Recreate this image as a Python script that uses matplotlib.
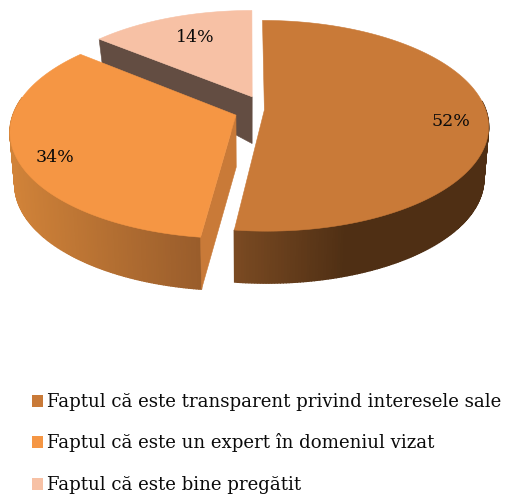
import numpy as np
from matplotlib import pyplot as plt
from matplotlib.colors import to_rgb
from matplotlib.patches import Polygon, Rectangle

labels = ["Faptul că este transparent privind interesele sale",
          "Faptul că este un expert în domeniul vizat",
          "Faptul că este bine pregătit"]
values = [52, 34, 14]
top_colors = ["#c97a38", "#f59644", "#f7c1a5"]

# 3d look of the pie, all in pixels of the picture
CX, CY = 250, 112
A, B, K = 222, 103.6, 0.151
DEPTH, SHRINK = 52, 0.02
offsets = [(0.065, 0.02), (-0.063, -0.03), (0.01, 0.15)]


## circle coordinates -> picture pixels, z=0 is the top of the pie and z=1 the bottom
def project(u, v, z=0.0):
    w = 1 + K * v
    depth = DEPTH - 35 * max(v, 0)
    return CX + A * u / w * (1 - SHRINK * z), CY - B * v / w + depth * z


def rim(theta, off):
    return np.sin(theta) + off[0], np.cos(theta) + off[1]


def mix(c1, c2, t):
    return tuple((1 - t) * np.array(to_rgb(c1)) + t * np.array(to_rgb(c2)))


def draw_wall(ax, t0, t1, off, c1, c2, x1, x2, zorder):
    thetas = np.linspace(t0, t1, 160)
    for a, b in zip(thetas[:-1], thetas[1:]):
        ua, va = rim(a, off)
        ub, vb = rim(b, off)
        pts = [project(ua, va), project(ub, vb), project(ub, vb, 1), project(ua, va, 1)]
        t = np.clip((project(ua, va, 1)[0] - x1) / (x2 - x1), 0, 1)
        col = mix(c1, c2, t)
        ax.add_patch(Polygon(pts, fc=col, ec=col, lw=1.0, zorder=zorder))


def draw_face(ax, t, off, col, zorder):
    u, v = rim(t, off)
    pts = [project(*off), project(u, v), project(u, v, 1), project(off[0], off[1], 1)]
    ax.add_patch(Polygon(pts, fc=col, ec=col, lw=0.4, zorder=zorder))


def draw_top(ax, t0, t1, off, col, zorder):
    thetas = np.linspace(t0, t1, 200)
    u, v = rim(thetas, off)
    pts = [project(*off)] + [project(a, b) for a, b in zip(u, v)]
    ax.add_patch(Polygon(pts, fc=col, ec=col, lw=0.4, zorder=zorder))


fig = plt.figure(figsize=(5.06, 4.96), dpi=100)
ax = fig.add_axes([0, 0, 1, 1])
ax.set_xlim(0, 506)
ax.set_ylim(496, 0)
ax.axis("off")

edges = np.cumsum([0] + values) / sum(values) * 2 * np.pi

# pale slice is at the back, then the orange one, then the big one
draw_face(ax, edges[2], offsets[2], "#634d42", 1)
draw_top(ax, edges[2], edges[3], offsets[2], top_colors[2], 2)

# only the front part of each outer wall can be seen
draw_wall(ax, edges[1], np.radians(280), offsets[1], "#985c2b", "#d18339", 205, 15, 3)
draw_face(ax, edges[1], offsets[1], "#c97a38", 4)
draw_top(ax, edges[1], edges[2], offsets[1], top_colors[1], 5)

draw_wall(ax, np.radians(85), edges[1], offsets[0], "#4f2f14", "#7a4a22", 345, 237, 6)
draw_top(ax, edges[0], edges[1], offsets[0], top_colors[0], 7)

font = "DejaVu Serif"
pct_pos = [(451, 122), (55, 157), (195, 38)]
for val, (x, y) in zip(values, pct_pos):
    ax.text(x, y, f"{val}%", family=font, fontsize=12.5, color="#0a0a0a",
            ha="center", va="center", zorder=10)

legend_y = [407, 448, 490]
for lab, col, y in zip(labels, top_colors, legend_y):
    ax.add_patch(Rectangle((32, y - 12), 11.5, 11.5, fc=col, ec="none"))
    ax.text(47, y, lab, family=font, fontsize=13.1, color="#0a0a0a",
            ha="left", va="baseline")

fig.savefig("out.png", dpi=100)
